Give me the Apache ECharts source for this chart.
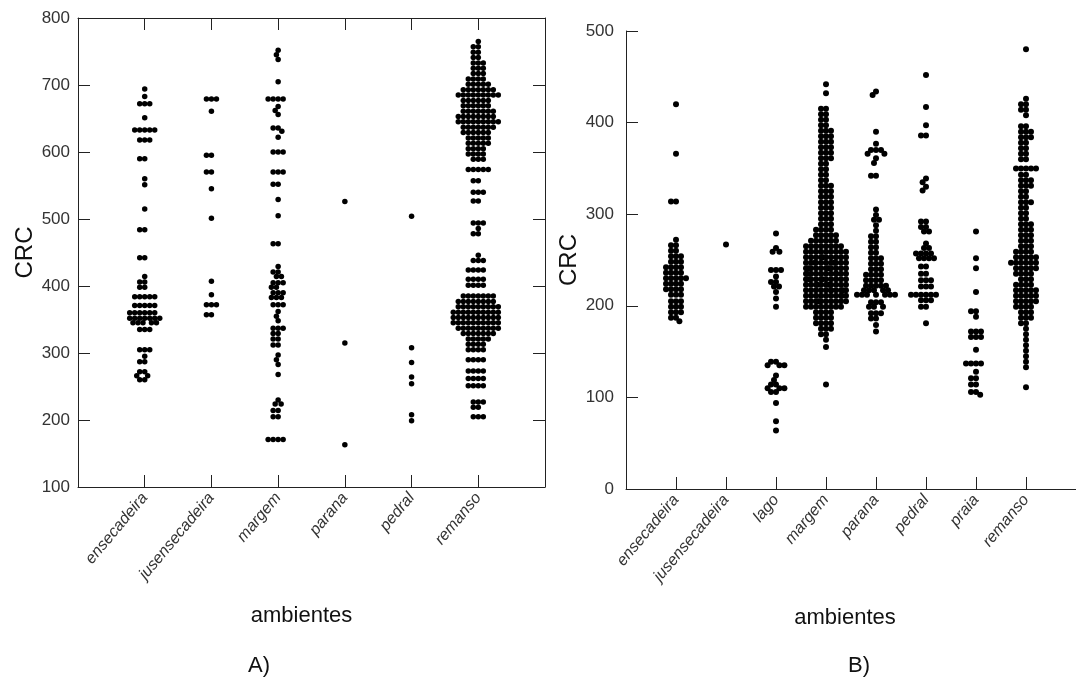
<!DOCTYPE html>
<html>
<head>
<meta charset="utf-8">
<title>CRC por ambientes</title>
<script src="https://cdn.jsdelivr.net/npm/echarts@6/dist/echarts.min.js"></script>
<style>
  html, body { margin: 0; padding: 0; background: #fff; }
  #chart { width: 1076px; height: 689px; }
</style>
</head>
<body>
<div id="chart"></div>
<script>
// categorias (ambientes)
const catsA = ['ensecadeira', 'jusensecadeira', 'margem', 'parana', 'pedral', 'remanso'];
const catsB = ['ensecadeira', 'jusensecadeira', 'lago', 'margem', 'parana', 'pedral', 'praia', 'remanso'];

const ticksA = [100, 800, 100];   // min, max, intervalo
const ticksB = [0, 500, 100];

// A) CRC por nivel e numero de pontos em cada nivel
const aEnsVal = [694, 683, 672, 651, 633, 618, 590, 560, 551, 515, 484, 442, 414, 406, 398, 384, 371, 360, 352, 345, 335, 305, 295, 287, 272, 266, 260];
const aEnsCnt = [1, 1, 3, 1, 5, 3, 2, 1, 1, 1, 2, 2, 1, 2, 2, 5, 5, 6, 7, 5, 3, 3, 1, 2, 2, 2, 2];
const aJusVal = [679, 661, 595, 570, 545, 501, 407, 387, 372, 357];
const aJusCnt = [3, 1, 2, 2, 1, 1, 1, 1, 3, 2];
const aMarVal = [752, 745, 738, 705, 679, 668, 662, 656, 636, 631, 622, 600, 570, 552, 529, 505, 463, 429, 421, 414, 405, 398, 390, 383, 372, 362, 355, 348, 337, 329, 321, 312, 297, 290, 283, 268, 230, 224, 214, 205, 171];
const aMarCnt = [1, 1, 1, 1, 4, 1, 1, 1, 2, 1, 1, 3, 3, 2, 1, 1, 2, 1, 2, 2, 3, 2, 3, 3, 3, 1, 1, 1, 3, 2, 2, 2, 1, 1, 1, 1, 1, 2, 2, 2, 4];
const aParVal = [526, 315, 163];
const aParCnt = [1, 1, 1];
const aPedVal = [504, 308, 286, 264, 254, 208, 199];
const aPedCnt = [1, 1, 1, 1, 1, 1, 1];
const aRemVal = [765, 757, 749, 741, 733, 725, 717, 709, 701, 693, 685, 677, 669, 661, 653, 645, 637, 629, 621, 613, 605, 597, 589, 574, 557, 540, 527, 494, 486, 478, 446, 438, 424, 410, 401, 385, 377, 369, 361, 353, 345, 337, 329, 321, 313, 305, 290, 273, 262, 251, 227, 219, 205];
const aRemCnt = [1, 2, 2, 2, 3, 3, 3, 4, 5, 7, 9, 6, 6, 7, 8, 9, 7, 6, 5, 5, 4, 4, 3, 5, 2, 3, 2, 3, 1, 2, 1, 3, 4, 4, 4, 7, 8, 9, 10, 10, 10, 9, 7, 5, 4, 4, 4, 4, 4, 4, 3, 2, 3];

// B) CRC por nivel e numero de pontos em cada nivel
const bEnsVal = [420, 366, 314, 272, 266, 260, 254, 248, 242, 236, 230, 224, 218, 212, 205, 199, 193, 187, 183];
const bEnsCnt = [1, 1, 2, 1, 2, 2, 3, 3, 4, 4, 5, 4, 4, 3, 3, 3, 3, 2, 1];
const bJusVal = [267];
const bJusCnt = [1];
const bLagVal = [279, 263, 259, 239, 232, 226, 221, 215, 208, 199, 139, 135, 124, 119, 114, 110, 106, 94, 74, 64];
const bLagCnt = [1, 1, 2, 3, 1, 2, 2, 1, 1, 1, 2, 3, 1, 1, 2, 3, 2, 1, 1, 1];
const bMarVal = [442, 432, 415, 409, 403, 397, 391, 385, 379, 373, 367, 361, 355, 349, 343, 337, 331, 325, 319, 313, 307, 301, 295, 289, 283, 277, 271, 265, 259, 253, 247, 241, 235, 229, 223, 217, 211, 205, 199, 193, 187, 181, 175, 169, 163, 155, 114];
const bMarCnt = [1, 1, 2, 2, 2, 2, 3, 3, 3, 3, 3, 3, 2, 2, 2, 2, 3, 3, 3, 3, 3, 3, 3, 3, 4, 5, 6, 8, 9, 10, 11, 11, 11, 11, 11, 11, 10, 10, 8, 4, 4, 4, 3, 2, 1, 1, 1];
const bParVal = [434, 430, 390, 377, 370, 366, 361, 356, 342, 305, 299, 294, 288, 282, 276, 270, 264, 258, 252, 246, 240, 234, 228, 222, 217, 212, 204, 199, 192, 186, 179, 172];
const bParCnt = [1, 1, 1, 1, 3, 2, 1, 1, 2, 1, 1, 2, 1, 1, 2, 2, 2, 2, 3, 3, 3, 4, 4, 5, 5, 7, 3, 3, 3, 2, 1, 1];
const bPedVal = [452, 417, 397, 386, 339, 335, 330, 326, 292, 286, 281, 268, 263, 257, 252, 243, 235, 228, 221, 212, 206, 199, 181];
const bPedCnt = [1, 1, 1, 2, 1, 1, 1, 1, 2, 2, 2, 1, 2, 4, 4, 2, 2, 3, 3, 6, 3, 2, 1];
const bPraVal = [281, 252, 241, 215, 194, 188, 172, 166, 152, 137, 128, 121, 114, 106, 103];
const bPraCnt = [1, 1, 1, 1, 2, 1, 3, 3, 1, 4, 1, 2, 2, 2, 1];
const bRemVal = [480, 426, 420, 414, 408, 396, 390, 384, 378, 372, 366, 360, 350, 343, 337, 331, 325, 319, 313, 307, 301, 295, 289, 283, 277, 271, 265, 259, 253, 247, 241, 235, 229, 223, 217, 211, 205, 199, 193, 187, 181, 175, 169, 163, 157, 151, 145, 139, 133, 111];
const bRemCnt = [1, 1, 2, 2, 1, 2, 3, 3, 2, 2, 2, 2, 5, 2, 3, 3, 2, 2, 3, 2, 2, 2, 3, 3, 3, 3, 3, 4, 5, 6, 5, 4, 3, 4, 5, 5, 5, 4, 3, 3, 2, 1, 1, 1, 1, 1, 1, 1, 1, 1];

const groupsA = [[aEnsVal, aEnsCnt], [aJusVal, aJusCnt], [aMarVal, aMarCnt], [aParVal, aParCnt], [aPedVal, aPedCnt], [aRemVal, aRemCnt]];
const groupsB = [[bEnsVal, bEnsCnt], [bJusVal, bJusCnt], [bLagVal, bLagCnt], [bMarVal, bMarCnt],
                 [bParVal, bParCnt], [bPedVal, bPedCnt], [bPraVal, bPraCnt], [bRemVal, bRemCnt]];

// uma entrada [indice da categoria, CRC] por individuo
function toPoints(groups) {
  const pts = [];
  groups.forEach(([vals, cnts], i) => {
    vals.forEach((v, k) => {
      for (let n = 0; n < cnts[k]; n++) pts.push([i + 1, v]);
    });
  });
  return pts;
}

// eixo com uma posicao vazia em cada ponta
const padCats = cats => [''].concat(cats, [' ']);
const isCat = (idx, val) => val.trim() !== '';

const font = 'Liberation Sans, Arial, sans-serif';
const lineStyle = { color: '#222', width: 1 };

function catAxis(grid, cats, pos, withLabels) {
  return {
    type: 'category', gridIndex: grid, position: pos,
    data: padCats(cats), boundaryGap: false,
    axisLine: { show: true, onZero: false, lineStyle },
    axisTick: { show: true, inside: true, length: 12, interval: isCat, lineStyle },
    axisLabel: {
      show: withLabels, interval: isCat, rotate: 50, margin: 8,
      fontFamily: font, fontSize: 16, fontStyle: 'italic', color: '#333'
    },
    splitLine: { show: false }
  };
}

function valAxis(grid, t, pos, withLabels) {
  return {
    type: 'value', gridIndex: grid, position: pos,
    min: t[0], max: t[1], interval: t[2],
    axisLine: { show: true, onZero: false, lineStyle },
    axisTick: { show: true, inside: true, length: 12, lineStyle },
    axisLabel: { show: withLabels, margin: 8, fontFamily: font, fontSize: 17, color: '#333' },
    splitLine: { show: false }
  };
}

const nameStyle = { fontFamily: font, fontSize: 22, color: '#111' };

const xA = catAxis(0, catsA, 'bottom', true);
Object.assign(xA, { jitter: 62, jitterOverlap: false, jitterMargin: -0.5 });
xA.name = 'ambientes'; xA.nameLocation = 'middle'; xA.nameGap = 118;
xA.nameTextStyle = Object.assign({ padding: [0, 20, 0, 0] }, nameStyle);
const xAtop = catAxis(0, catsA, 'top', false);

const xB = catAxis(1, catsB, 'bottom', true);
Object.assign(xB, { jitter: 62, jitterOverlap: false, jitterMargin: -1 });
xB.name = 'ambientes'; xB.nameLocation = 'middle'; xB.nameGap = 118;
xB.nameTextStyle = Object.assign({ padding: [0, 12, 0, 0] }, nameStyle);

const yA = valAxis(0, ticksA, 'left', true);
yA.name = 'CRC'; yA.nameLocation = 'middle'; yA.nameGap = 38;
yA.nameTextStyle = Object.assign({}, nameStyle, { fontSize: 24 });
const yAright = valAxis(0, ticksA, 'right', false);

const yB = valAxis(1, ticksB, 'left', true);
yB.name = 'CRC'; yB.nameLocation = 'middle'; yB.nameGap = 44;
yB.nameTextStyle = Object.assign({}, nameStyle, { fontSize: 24 });
yB.axisLabel.margin = 12;

const chart = echarts.init(document.getElementById('chart'));
chart.setOption({
  animation: false,
  backgroundColor: '#fff',
  grid: [
    { left: 78, top: 18, width: 467, height: 469 },
    { left: 626, top: 31, width: 457, height: 458 }
  ],
  xAxis: [xA, xAtop, xB],
  yAxis: [yA, yAright, yB],
  graphic: [
    { type: 'text', left: 248, top: 655, style: { text: 'A)', font: '22px Liberation Sans, Arial, sans-serif', fill: '#111' } },
    { type: 'text', left: 848, top: 655, style: { text: 'B)', font: '22px Liberation Sans, Arial, sans-serif', fill: '#111' } }
  ],
  series: [
    {
      name: 'A', type: 'scatter', xAxisIndex: 0, yAxisIndex: 0,
      symbol: 'circle', symbolSize: 5.5, itemStyle: { color: '#000', opacity: 1 },
      data: toPoints(groupsA)
    },
    {
      name: 'B', type: 'scatter', xAxisIndex: 2, yAxisIndex: 2,
      symbol: 'circle', symbolSize: 6, itemStyle: { color: '#000', opacity: 1 },
      data: toPoints(groupsB)
    }
  ]
});
</script>
</body>
</html>
